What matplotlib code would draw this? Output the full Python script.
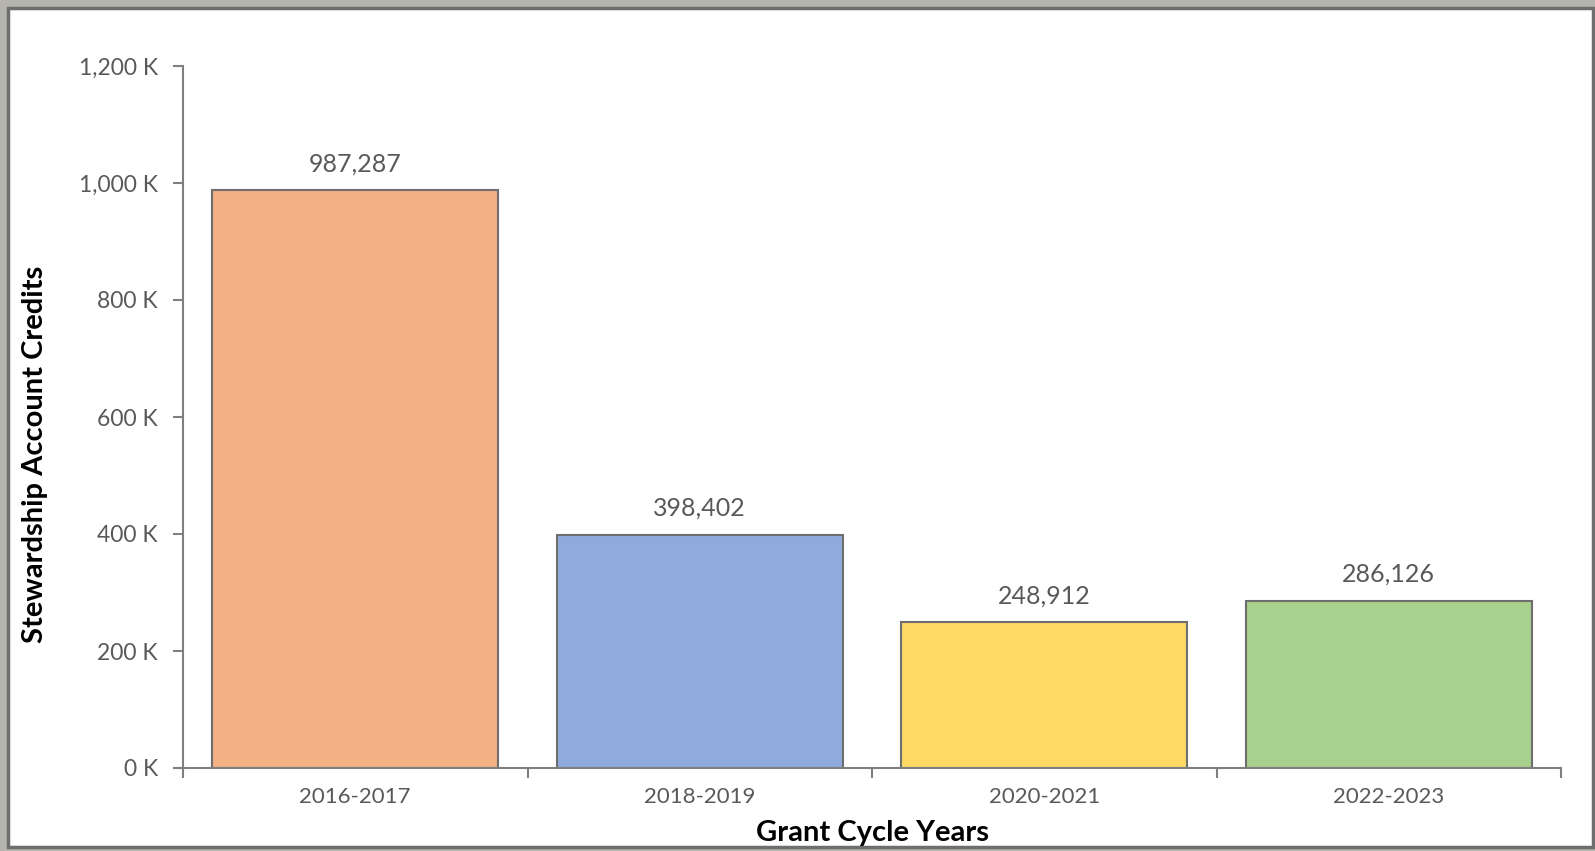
import matplotlib.pyplot as plt
from matplotlib.patches import Rectangle
from matplotlib.ticker import FuncFormatter, FixedLocator

plt.rcParams['font.family'] = ['Lato', 'DejaVu Sans']

cycles = ['2016-2017', '2018-2019', '2020-2021', '2022-2023']
credits = [987287, 398402, 248912, 286126]
colors = ['#F4B183', '#8FAADC', '#FFD966', '#A9D18E']

text_color = '#595959'
axis_color = '#7F7F7F'

fig = plt.figure(figsize=(15.95, 8.51), dpi=100)
fig.patch.set_facecolor('#B5B5AE')
# white chart area inside the grey screenshot border
fig.patches.append(Rectangle((8 / 1595, 4 / 851), 1585 / 1595, 839 / 851,
                             transform=fig.transFigure, facecolor='white',
                             edgecolor='#6E6E6E', linewidth=2.5, zorder=-10))

ax = fig.add_axes([183 / 1595, 1 - 768 / 851, (1561 - 183) / 1595, (768 - 66) / 851])
ax.set_facecolor('none')
ax.set_zorder(1)

x = range(len(cycles))
bars = ax.bar(x, credits, width=0.83, color=colors, edgecolor='#6E6E6E', linewidth=1.5, zorder=2)

for xi, v in zip(x, credits):
    ax.annotate(f'{v:,}', (xi, v), xytext=(0, 11), textcoords='offset points',
                ha='center', va='bottom', fontsize=18, color=text_color)

ax.set_xlim(-0.5, len(cycles) - 0.5)
ax.set_ylim(0, 1200000)
ax.set_yticks(range(0, 1200001, 200000))
ax.yaxis.set_major_formatter(FuncFormatter(lambda v, p: f'{int(v / 1000):,} K'))

ax.set_xticks(list(x))
ax.set_xticklabels(cycles)
ax.xaxis.set_minor_locator(FixedLocator([i - 0.5 for i in range(len(cycles) + 1)]))
ax.tick_params(axis='x', which='major', length=0, pad=14, labelsize=16, labelcolor=text_color)
ax.tick_params(axis='x', which='minor', length=7, width=1.5, color=axis_color, direction='out')
ax.tick_params(axis='y', length=7, width=1.5, color=axis_color, pad=11, labelsize=16.5, labelcolor=text_color)

for side in ['top', 'right']:
    ax.spines[side].set_visible(False)
for side in ['left', 'bottom']:
    ax.spines[side].set_color(axis_color)
    ax.spines[side].set_linewidth(1.5)

ax.set_xlabel('Grant Cycle Years', fontsize=21, fontweight='bold', color='black', labelpad=9)
ax.set_ylabel('Stewardship Account Credits', fontsize=21, fontweight='bold', color='black')
ax.yaxis.set_label_coords(-0.098, 0.447)

fig.savefig('out.png', dpi=100, facecolor=fig.get_facecolor())
